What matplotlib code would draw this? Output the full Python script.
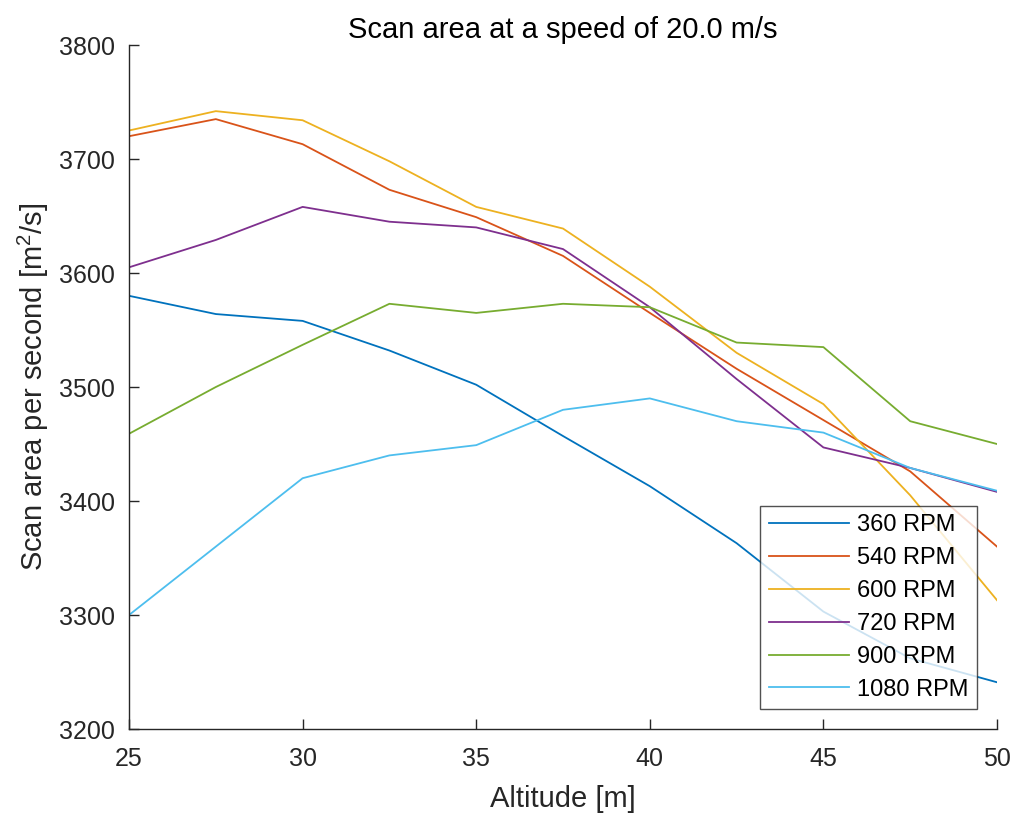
import matplotlib
matplotlib.use("Agg")
import matplotlib.pyplot as plt

plt.rcParams['font.family'] = ['Liberation Sans', 'DejaVu Sans']
plt.rcParams['mathtext.fontset'] = 'custom'
plt.rcParams['mathtext.rm'] = 'Liberation Sans'
plt.rcParams['mathtext.it'] = 'Liberation Sans'

altitude = [25, 27.5, 30, 32.5, 35, 37.5, 40, 42.5, 45, 47.5, 50]

rpm_360 = [3580, 3564, 3558, 3532, 3502, 3457, 3413, 3363, 3303, 3262, 3241]
rpm_540 = [3720, 3735, 3713, 3673, 3649, 3615, 3565, 3516, 3471, 3426, 3360]
rpm_600 = [3725, 3742, 3734, 3698, 3658, 3639, 3588, 3530, 3485, 3405, 3313]
rpm_720 = [3605, 3629, 3658, 3645, 3640, 3621, 3570, 3507, 3447, 3429, 3408]
rpm_900 = [3459, 3500, 3537, 3573, 3565, 3573, 3570, 3539, 3535, 3470, 3450]
rpm_1080 = [3300, 3360, 3420, 3440, 3449, 3480, 3490, 3470, 3460, 3429, 3409]

series_labels = ['360 RPM', '540 RPM', '600 RPM', '720 RPM', '900 RPM', '1080 RPM']
series_values = [rpm_360, rpm_540, rpm_600, rpm_720, rpm_900, rpm_1080]
colors = ['#0072BD', '#D95319', '#EDB120', '#7E2F8E', '#77AC30', '#4DBEEE']

x_ticks = [25, 30, 35, 40, 45, 50]
y_ticks = [3200, 3300, 3400, 3500, 3600, 3700, 3800]

axis_grey = '#262626'

fig = plt.figure(figsize=(10.16, 8.17), dpi=100)
ax = fig.add_axes([0.127, 0.1077, 0.8543, 0.8372])

for vals, lab, col in zip(series_values, series_labels, colors):
    ax.plot(altitude, vals, color=col, lw=1.3, label=lab)

ax.set_xlim(25, 50)
ax.set_ylim(3200, 3800)
ax.set_xticks(x_ticks)
ax.set_yticks(y_ticks)

for side in ('top', 'right'):
    ax.spines[side].set_visible(False)
for side in ('left', 'bottom'):
    ax.spines[side].set_color(axis_grey)
    ax.spines[side].set_linewidth(1.0)

ax.tick_params(direction='in', length=7, width=1.0, colors=axis_grey, labelsize=18)
ax.tick_params(axis='x', pad=13)
ax.tick_params(axis='y', pad=10)

ax.set_title('Scan area at a speed of 20.0 m/s', fontsize=21, color='black', pad=5)
ax.set_xlabel('Altitude [m]', fontsize=21, color=axis_grey, labelpad=10)
ax.set_ylabel('Scan area per second [m$^{2}$/s]', fontsize=21, color=axis_grey, labelpad=6)

leg = ax.legend(loc='lower right', fontsize=17, frameon=True, fancybox=False,
                edgecolor=axis_grey, handlelength=3.4, borderaxespad=0.85,
                borderpad=0.35, labelspacing=0.46, handletextpad=0.35)
leg.get_frame().set_linewidth(1.0)

fig.savefig('out.png', dpi=100)
